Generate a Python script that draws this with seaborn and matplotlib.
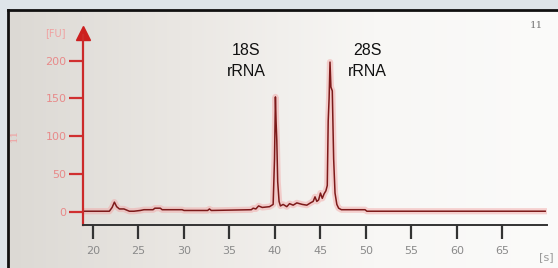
import matplotlib
matplotlib.use("Agg")
import matplotlib.pyplot as plt
import seaborn as sns
import numpy as np
import pandas as pd

# electropherogram trace (time [s], fluorescence [FU])
time_s = [18.9, 21.8, 22.1, 22.35, 22.6, 22.9, 23.4, 24.0, 24.5, 25.2, 25.6,
          26.6, 26.8, 27.4, 27.6, 29.8, 30.0, 32.6, 32.8, 33.0, 37.4, 37.6,
          37.9, 38.2, 38.6, 39.4, 39.8, 39.95, 40.05, 40.12, 40.2, 40.3,
          40.45, 40.6, 40.9, 41.3, 41.6, 42.0, 42.4, 43.0, 43.5, 43.9, 44.2,
          44.4, 44.6, 44.8, 45.0, 45.2, 45.4, 45.6, 45.75, 45.85, 45.95,
          46.05, 46.15, 46.3, 46.45, 46.6, 46.8, 47.0, 47.3, 49.9, 50.1, 69.7]
fu_vals = [1, 1, 6, 13, 7, 4, 4, 1, 1, 2, 3,
           3, 5, 5, 3, 3, 2, 2, 4, 2, 3, 5,
           4, 8, 6, 7, 10, 70, 152, 120, 95, 40,
           14, 8, 10, 7, 11, 9, 12, 10, 9, 12, 14,
           20, 14, 16, 25, 18, 24, 28, 35, 120, 150,
           198, 165, 160, 70, 25, 10, 5, 3, 3, 1, 1]

x_ticks = [20, 25, 30, 35, 40, 45, 50, 55, 60, 65]
y_ticks = [0, 50, 100, 150, 200]
peak_labels = ["18S\nrRNA", "28S\nrRNA"]
peak_label_pos = [(36.8, 223), (50.2, 223)]

df = pd.DataFrame({"time": time_s, "fu": fu_vals})

W, H = 558, 268
fig = plt.figure(figsize=(W / 100, H / 100), dpi=100)
fig.patch.set_facecolor("#dee4e9")

# panel with soft grey-to-white gradient and black frame on top/left
bg = fig.add_axes([8 / W, 0, 1 - 8 / W, 1 - 10 / H])
grad = np.linspace(0, 1, 256).reshape(1, -1)
bg.imshow(grad, aspect="auto", cmap=matplotlib.colors.LinearSegmentedColormap.from_list(
    "g", ["#dcd9d4", "#ebe8e4", "#f8f7f5", "#fbfbfa"]), extent=[0, 1, 0, 1])
bg.set_xlim(0, 1)
bg.set_ylim(0, 1)
bg.set_xticks([])
bg.set_yticks([])
for s in ["right", "bottom"]:
    bg.spines[s].set_visible(False)
for s in ["left", "top"]:
    bg.spines[s].set_color("#111111")
    bg.spines[s].set_linewidth(2)

ax = fig.add_axes([83 / W, (H - 225) / H, 464 / W, 190 / H])
ax.patch.set_alpha(0)

# glow + trace
sns.lineplot(data=df, x="time", y="fu", ax=ax, color="#f2a0a0", lw=4.5, alpha=0.45)
sns.lineplot(data=df, x="time", y="fu", ax=ax, color="#7d1a1a", lw=1.1)

ax.set_xlim(18.9, 69.9)
ax.set_ylim(-17.2, 233.8)
ax.set_xticks(x_ticks)
ax.set_yticks(y_ticks)
ax.set_xticklabels([str(t) for t in x_ticks], color="#8a8a8a", fontsize=8)
ax.set_yticklabels([str(t) for t in y_ticks], color="#e88a8a", fontsize=8)
ax.tick_params(axis="x", direction="out", length=10, width=1.6, color="#333333", pad=5)
ax.tick_params(axis="y", direction="out", length=10, width=1.6, color="#d03030", pad=2)
ax.spines["top"].set_visible(False)
ax.spines["right"].set_visible(False)
ax.spines["left"].set_color("#cc2a2a")
ax.spines["left"].set_linewidth(1.6)
ax.spines["bottom"].set_color("#333333")
ax.spines["bottom"].set_linewidth(1.4)
ax.set_xlabel("")
ax.set_ylabel("")

# arrow head on the y axis
ax.plot([18.9], [236], marker="^", color="#cc1f1f", markersize=10, clip_on=False)

for lab, (px, py) in zip(peak_labels, peak_label_pos):
    ax.text(px, py, lab, ha="center", va="top", fontsize=11.5, color="#111111",
            family="Liberation Sans", linespacing=1.45)

fig.text(55 / W, 1 - 33 / H, "[FU]", color="#f0a0a0", fontsize=7, ha="center", va="center")
fig.text(536 / W, 1 - 26 / H, "11", color="#777777", fontsize=7.5, ha="center", va="center",
         family="DejaVu Serif")
fig.text(14 / W, 1 - 135 / H, "11", color="#f0a0a0", fontsize=7.5, rotation=90,
         ha="center", va="center", family="DejaVu Serif")
fig.text(546 / W, 1 - 257 / H, "[s]", color="#999999", fontsize=8, ha="center", va="center")

fig.savefig("out.png", dpi=100)
